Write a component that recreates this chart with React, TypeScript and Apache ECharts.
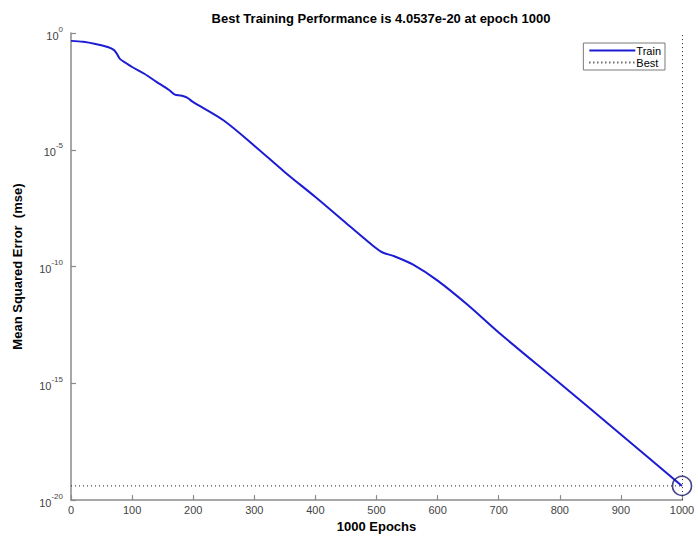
import { useEffect, useRef } from "react";
import * as echarts from "echarts";

// Training record: epoch number and mean squared error
const epochs = [
  0, 20, 40, 60, 70, 75, 80, 90, 100, 120, 140, 160, 170, 180, 190, 200, 250, 300,
  350, 400, 450, 500, 510, 530, 560, 600, 650, 700, 800, 900, 1000,
];
const trainMse = [
  4.6e-1, 4.2e-1, 3.4e-1, 2.5e-1, 1.9e-1, 1.3e-1, 7.8e-2, 5.2e-2, 3.5e-2, 1.8e-2,
  8.1e-3, 3.7e-3, 2.3e-3, 2.1e-3, 1.7e-3, 1.1e-3, 1.8e-4, 1.5e-5, 1.1e-6, 9.5e-8,
  7.4e-9, 5.9e-10, 4.0e-10, 2.7e-10, 1.2e-10, 2.5e-11, 2.2e-12, 1.5e-13, 1.0e-15,
  6.5e-18, 4.0537e-20,
];

const bestEpoch = 1000;
const bestMse = 4.0537e-20;
const epochRange = [0, 1000];
const mseRange = [1e-20, 1];

const titleText = `Best Training Performance is ${bestMse} at epoch ${bestEpoch}`;
const seriesNames = ["Train", "Best"];

const FONT = "'Liberation Sans', Arial, Helvetica, sans-serif";
const AXIS_GRAY = "#8a8a8a";

export default function App() {
  const ref = useRef<HTMLDivElement>(null);

  useEffect(() => {
    document.body.style.margin = "0";
    if (!ref.current) return;
    const chart = echarts.init(ref.current, undefined, { renderer: "svg" });

    const trainData = epochs.map((e, i) => [e, trainMse[i]]);

    chart.setOption({
      animation: false,
      backgroundColor: "#ffffff",
      textStyle: { fontFamily: FONT },
      title: {
        text: titleText,
        left: 376,
        top: 7,
        textAlign: "center",
        textStyle: { fontFamily: FONT, fontSize: 13, fontWeight: "bold", color: "#000" },
      },
      legend: {
        data: seriesNames,
        orient: "vertical",
        right: 33,
        top: 43,
        itemWidth: 46,
        itemHeight: 10,
        itemGap: 1,
        padding: [2, 4, 2, 5],
        borderColor: "#7a7a7a",
        borderWidth: 1,
        backgroundColor: "#fff",
        itemStyle: { opacity: 0 },
        textStyle: { fontFamily: FONT, fontSize: 11, color: "#000", padding: [0, 0, 0, -4] },
      },
      grid: { left: 71, right: 16, top: 33, bottom: 35 },
      xAxis: {
        type: "value",
        min: epochRange[0],
        max: epochRange[1],
        interval: 100,
        name: "1000 Epochs",
        nameLocation: "middle",
        nameGap: 17,
        nameTextStyle: { fontFamily: FONT, fontSize: 13, fontWeight: "bold", color: "#000" },
        axisLine: { lineStyle: { color: AXIS_GRAY, width: 1.5 } },
        axisTick: { inside: true, length: 5, lineStyle: { color: AXIS_GRAY, width: 1.2 } },
        axisLabel: {
          fontFamily: FONT,
          fontSize: 11,
          color: "#444",
          margin: 4,
          formatter: (v: number) => String(v),
        },
        splitLine: { show: false },
      },
      yAxis: {
        type: "log",
        logBase: 10,
        min: mseRange[0],
        max: mseRange[1],
        interval: 5,
        name: "Mean Squared Error  (mse)",
        nameLocation: "middle",
        nameGap: 47,
        nameTextStyle: { fontFamily: FONT, fontSize: 13, fontWeight: "bold", color: "#000" },
        axisLine: { lineStyle: { color: AXIS_GRAY, width: 1.5 } },
        axisTick: { inside: true, length: 5, lineStyle: { color: AXIS_GRAY, width: 1.2 } },
        minorTick: { show: false },
        splitLine: { show: false },
        axisLabel: {
          margin: 8,
          formatter: (v: number) => `{b|10}{s|${Math.round(Math.log10(v))}}`,
          rich: {
            b: { fontFamily: FONT, fontSize: 11, color: "#444", lineHeight: 16, verticalAlign: "bottom" },
            s: { fontFamily: FONT, fontSize: 8, color: "#444", lineHeight: 16, verticalAlign: "top" },
          },
        },
      },
      series: [
        {
          name: "Train",
          type: "line",
          data: trainData,
          symbol: "none",
          smooth: 0.3,
          lineStyle: { color: "#1c1cd2", width: 2 },
          itemStyle: { color: "#1c1cd2" },
          z: 3,
        },
        {
          name: "Best",
          type: "line",
          data: [
            [epochRange[0], bestMse],
            [epochRange[1], bestMse],
          ],
          symbol: "none",
          lineStyle: { color: "#222", width: 1, type: [1, 3] },
          itemStyle: { color: "#222" },
          markLine: {
            silent: true,
            symbol: "none",
            label: { show: false },
            lineStyle: { color: "#222", width: 1, type: [1, 3] },
            data: [{ xAxis: bestEpoch }],
          },
          z: 2,
        },
        {
          name: "BestPoint",
          type: "scatter",
          data: [[bestEpoch, bestMse]],
          symbol: "circle",
          symbolSize: 19,
          clip: false,
          itemStyle: { color: "rgba(0,0,0,0)", borderColor: "#17176a", borderWidth: 1.6 },
          z: 4,
        },
      ],
    });

    return () => chart.dispose();
  }, []);

  return <div ref={ref} style={{ width: 698, height: 538 }} />;
}
